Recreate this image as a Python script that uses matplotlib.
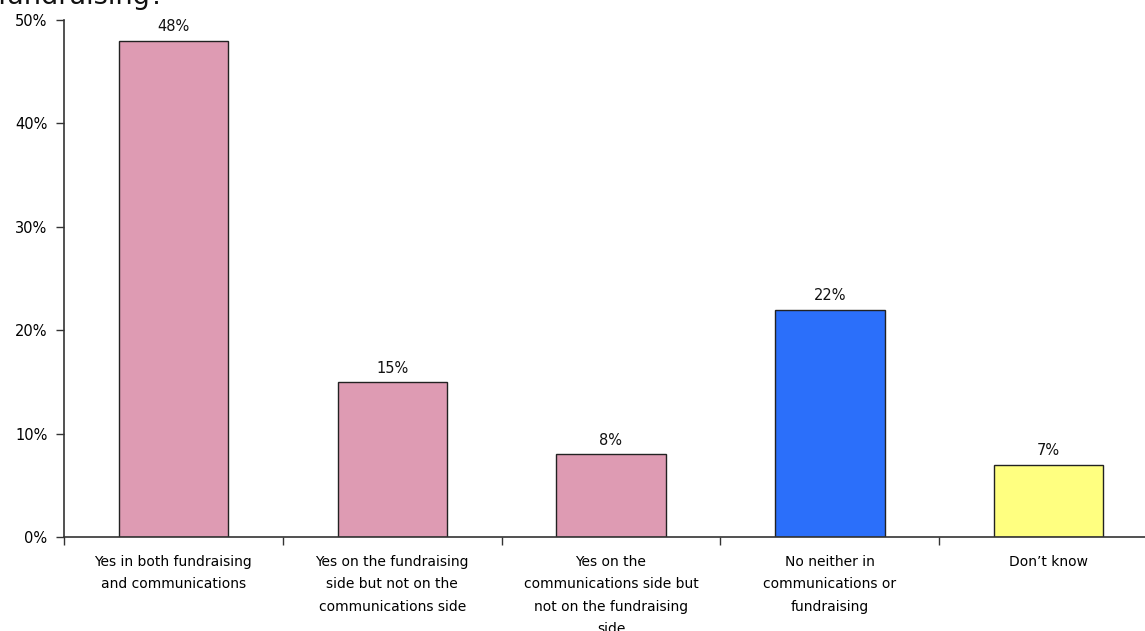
import matplotlib
matplotlib.use("Agg")
import matplotlib.pyplot as plt
from matplotlib.ticker import FixedLocator, PercentFormatter

categories = [
    "Yes in both fundraising\nand communications",
    "Yes on the fundraising\nside but not on the\ncommunications side",
    "Yes on the\ncommunications side but\nnot on the fundraising\nside",
    "No neither in\ncommunications or\nfundraising",
    "Don\u2019t know",
]
values = [48, 15, 8, 22, 7]
colors = ["#DE9BB3", "#DE9BB3", "#DE9BB3", "#2B6FFA", "#FFFF80"]
title_tail = "fundraising?"

fig = plt.figure(figsize=(11.45, 6.31), dpi=100)
ax = fig.add_axes([64/1145, 1-537/631, (1158-64)/1145, (537-20)/631])

x = list(range(len(values)))
bars = ax.bar(x, values, width=0.5, color=colors, edgecolor="#222222", linewidth=1)
for b, v in zip(bars, values):
    ax.text(b.get_x() + b.get_width()/2, v + 0.6, f"{v}%", ha="center", va="bottom",
            fontsize=10.5, color="#111111")

ax.set_xlim(-0.5, len(values)-0.5)
ax.set_ylim(0, 50)
ax.set_yticks([0, 10, 20, 30, 40, 50])
ax.yaxis.set_major_formatter(PercentFormatter(decimals=0))
ax.set_xticks(x)
ax.set_xticklabels(categories, fontsize=10, linespacing=1.75, va="top")
ax.tick_params(axis="x", which="major", length=0, pad=13)
ax.xaxis.set_minor_locator(FixedLocator([i - 0.5 for i in range(len(values)+1)]))
ax.tick_params(axis="x", which="minor", length=6, width=1, color="#333333", direction="out")
ax.tick_params(axis="y", length=6, width=1, color="#333333", direction="out", labelsize=10.5, pad=6)
for s in ["top", "right"]:
    ax.spines[s].set_visible(False)
for s in ["left", "bottom"]:
    ax.spines[s].set_color("#333333")
    ax.spines[s].set_linewidth(1.2)

fig.text(-0.002, 1-4/631, title_tail, fontsize=19.5, ha="left", va="baseline", color="#111111")

fig.savefig("out.png", dpi=100)
